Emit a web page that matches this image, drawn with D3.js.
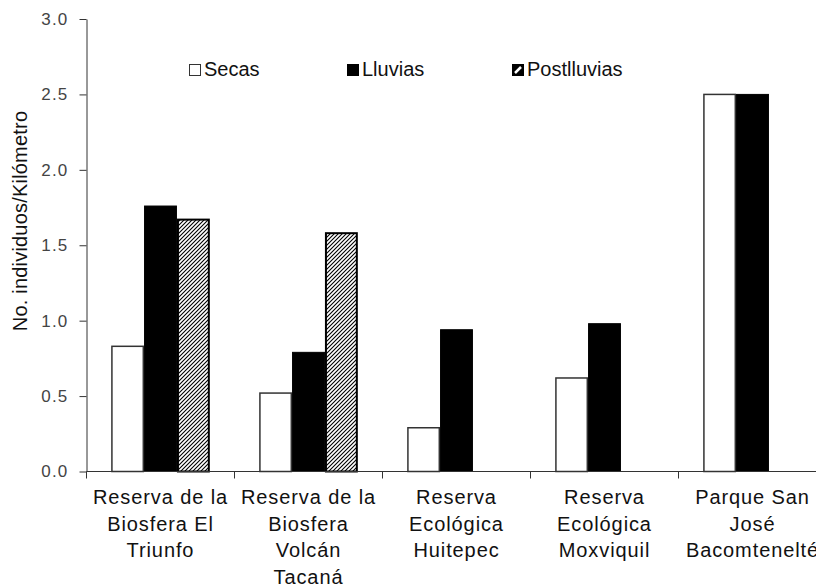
<!DOCTYPE html>
<html>
<head>
<meta charset="utf-8">
<script src="https://cdn.jsdelivr.net/npm/d3@7"></script>
<style>
  html, body { margin: 0; padding: 0; background: #fff; }
  svg { display: block; }
</style>
</head>
<body>
<svg id="chart" width="816" height="587"></svg>
<script>
// ---- data ----
const categories = [
  ["Reserva de la", "Biosfera El", "Triunfo"],
  ["Reserva de la", "Biosfera", "Volcán", "Tacaná"],
  ["Reserva", "Ecológica", "Huitepec"],
  ["Reserva", "Ecológica", "Moxviquil"],
  ["Parque San", "José", "Bacomtenelté"]
];
const seriesNames = ["Secas", "Lluvias", "Postlluvias"];
const secas = [0.83, 0.52, 0.29, 0.62, 2.50];
const lluvias = [1.76, 0.79, 0.94, 0.98, 2.50];
const postlluvias = [1.67, 1.58, null, null, null];
const yTicks = [0, 0.5, 1.0, 1.5, 2.0, 2.5, 3.0];
const yLabel = "No. individuos/Kilómetro";

const seriesValues = [secas, lluvias, postlluvias];

// ---- layout ----
const svg = d3.select("#chart");
const x0 = 86.5, y0 = 471.5, yTop = 19, step = 148;

const catIdx = categories.map((d, i) => i);
const x = d3.scaleBand().domain(catIdx).range([x0, x0 + step * categories.length]).paddingInner(0).paddingOuter(0);
const xs = d3.scaleBand().domain(seriesNames).range([0, x.bandwidth()]).paddingInner(0).paddingOuter(0.75);
const y = d3.scaleLinear().domain([0, 3]).range([y0, yTop]);

// hatch pattern
const defs = svg.append("defs");
const pat = defs.append("pattern")
  .attr("id", "hatch").attr("patternUnits", "userSpaceOnUse")
  .attr("width", 4).attr("height", 4);
pat.append("rect").attr("width", 4).attr("height", 4).attr("fill", "#fff");
pat.append("path").attr("d", "M-1,1 l2,-2 M0,4 l4,-4 M3,5 l2,-2")
  .attr("stroke", "#000").attr("stroke-width", 1.1);

const styles = {
  "Secas": { fill: "#fff", stroke: "#333", sw: 1.5 },
  "Lluvias": { fill: "#000", stroke: "#000", sw: 1 },
  "Postlluvias": { fill: "url(#hatch)", stroke: "#000", sw: 2 }
};

// bars
const barData = [];
seriesNames.forEach((s, si) => {
  seriesValues[si].forEach((v, ci) => {
    if (v !== null) barData.push({ s, ci, v });
  });
});
svg.append("g").selectAll("rect").data(barData).join("rect")
  .attr("x", d => x(d.ci) + xs(d.s) + styles[d.s].sw / 2)
  .attr("width", d => xs.bandwidth() - styles[d.s].sw)
  .attr("y", d => y(d.v))
  .attr("height", d => y0 - y(d.v))
  .attr("fill", d => styles[d.s].fill)
  .attr("stroke", d => styles[d.s].stroke)
  .attr("stroke-width", d => styles[d.s].sw);

// y axis
const yAxis = svg.append("g").attr("transform", `translate(${x0},0)`)
  .call(d3.axisLeft(y).tickValues(yTicks).tickFormat(d3.format(".1f")).tickSize(7).tickPadding(11).tickSizeOuter(0));
yAxis.select(".domain").attr("stroke", "#333");
yAxis.selectAll(".tick line").attr("stroke", "#333");
yAxis.selectAll(".tick text")
  .attr("font-family", "'Liberation Sans', Arial, sans-serif")
  .attr("font-size", 17).attr("letter-spacing", 1.2).attr("fill", "#444");

// x axis
const xAxis = svg.append("g").attr("transform", `translate(0,${y0})`);
xAxis.append("line").attr("x1", x0).attr("x2", 816).attr("y1", 0).attr("y2", 0).attr("stroke", "#333");
xAxis.selectAll("line.tk").data(catIdx).join("line").attr("class", "tk")
  .attr("x1", d => x(d)).attr("x2", d => x(d)).attr("y1", 0).attr("y2", 7).attr("stroke", "#333");

// category labels
const lab = svg.append("g");
categories.forEach((lines, ci) => {
  const t = lab.append("text")
    .attr("x", x(ci) + x.bandwidth() / 2)
    .attr("y", 504)
    .attr("text-anchor", "middle")
    .attr("font-family", "'Liberation Sans', Arial, sans-serif")
    .attr("font-size", 20).attr("letter-spacing", 0.9).attr("fill", "#111");
  lines.forEach((ln, li) => {
    t.append("tspan").attr("x", x(ci) + x.bandwidth() / 2).attr("y", 504 + li * 26.5).text(ln);
  });
});

// y label
svg.append("text")
  .attr("transform", "translate(27,221) rotate(-90)")
  .attr("text-anchor", "middle")
  .attr("font-family", "'Liberation Sans', Arial, sans-serif")
  .attr("font-size", 20).attr("letter-spacing", 0.2).attr("fill", "#111")
  .text(yLabel);

// legend
const legendX = [189, 347, 512];
const lg = svg.append("g");
seriesNames.forEach((s, i) => {
  const st = styles[s];
  lg.append("rect").attr("x", legendX[i] + 0.5).attr("y", 64.5).attr("width", 11).attr("height", 11)
    .attr("fill", s === "Postlluvias" ? "#000" : st.fill).attr("stroke", st.stroke).attr("stroke-width", 1);
  if (s === "Postlluvias") {
    lg.append("path").attr("d", `M${legendX[i] + 3},${73} L${legendX[i] + 9},${67}`)
      .attr("stroke", "#fff").attr("stroke-width", 2.5);
  }
  lg.append("text").attr("x", legendX[i] + 15).attr("y", 75.5)
    .attr("font-family", "'Liberation Sans', Arial, sans-serif")
    .attr("font-size", 20).attr("fill", "#111")
    .text(s);
});
</script>
</body>
</html>
